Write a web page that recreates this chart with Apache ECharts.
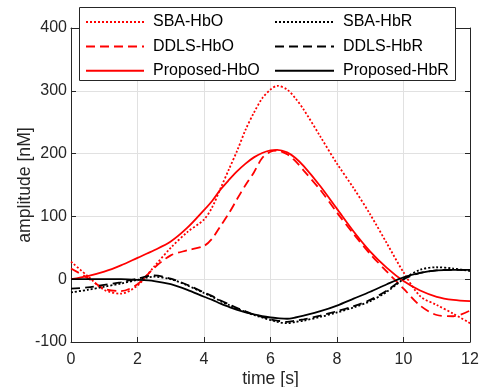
<!DOCTYPE html>
<html>
<head>
<meta charset="utf-8">
<script src="https://cdn.jsdelivr.net/npm/echarts@6/dist/echarts.min.js"></script>
<style>
html,body{margin:0;padding:0;background:#fff;}
#chart{width:482px;height:387px;}
</style>
</head>
<body>
<div id="chart"></div>
<script>
// time samples [s]
var timeValues = [0,0.5,1,1.5,2,2.5,3,3.5,4,4.25,4.5,4.75,5,5.25,5.5,5.75,6,6.2,6.5,6.75,7,7.5,8,8.5,9,9.5,10,10.5,11,11.5,12];

var sbaHbO      = [28,5,-17,-23,-10,20,50,75,95,115,145,175,205,238,265,288,302,308,302,288,270,227,184,145,103,57,11,-27,-41,-55,-70];
var ddlsHbO     = [17,2,-15,-19,-8,18,38,46,53,65,85,105,128,150,170,193,203,205,199,188,173,142,106,72,40,12,-15,-42,-57,-59,-50];
var proposedHbO = [0,5,12,22,34,46,60,82,110,125,143,158,172,184,194,201,205,206,202,193,180,148,112,76,44,18,-3,-18,-28,-33,-35];
var sbaHbR      = [-21,-17,-12,-7,-1,4,0,-10,-22,-28,-35,-41,-47,-52,-57,-61,-65,-68,-70,-68,-66,-60,-53,-45,-35,-20,0,15,19,17,13];
var ddlsHbR     = [-15,-13,-9,-5,1,6,1,-9,-21,-27,-34,-40,-46,-51,-56,-60,-64,-66,-68,-66,-64,-58,-51,-43,-33,-18,0,10,14,15,15];
var proposedHbR = [0,0,0,0,-1,-3,-8,-17,-28,-33,-39,-44,-49,-53,-56,-59,-61,-62,-63,-61,-58,-51,-42,-31,-20,-8,3,10,14,15,15];

var seriesNames = ['SBA-HbO','DDLS-HbO','Proposed-HbO','SBA-HbR','DDLS-HbR','Proposed-HbR'];
var xTicks = {min:0, max:12, interval:2};
var yTicks = {min:-100, max:400, interval:100};

function pairs(vals){ return timeValues.map(function(t,i){ return [t, vals[i]]; }); }

var RED = '#ff0000', BLACK = '#000000';
var DOT = [2,2], DASH = [9,5];
var FONT = '"Liberation Sans", Arial, sans-serif';
var AX = '#262626';

function mk(name, vals, color, type){
  return {
    name: name, type: 'line', data: pairs(vals),
    showSymbol: false, symbol: 'none', smooth: 0.3,
    lineStyle: {color: color, width: 1.8, type: type, cap: 'butt'},
    itemStyle: {color: color},
    emphasis: {disabled: true}, animation: false
  };
}

var chart = echarts.init(document.getElementById('chart'), null, {renderer:'canvas'});
var axisCommon = {
  axisLine: {show:true, onZero:false, lineStyle:{color:AX, width:1}},
  axisTick: {show:true, inside:true, length:5, lineStyle:{color:AX}},
};
var legendCommon = {
  orient:'vertical', top:14, itemHeight:14, itemGap:8.4, padding:0, z:5,
  itemStyle:{opacity:0, borderWidth:0},
  textStyle:{fontSize:16, color:'#000', fontFamily:FONT, lineHeight:14, padding:[0,0,0,4]},
  selectedMode:false
};
chart.setOption({
  animation: false,
  backgroundColor: '#ffffff',
  textStyle: {fontFamily: FONT},
  grid: {left:71, right:12, top:28, bottom:45, containLabel:false, outerBoundsMode:'none'},
  xAxis: [
    Object.assign({
      type:'value', min:xTicks.min, max:xTicks.max, interval:xTicks.interval,
      name:'time [s]', nameLocation:'middle', nameGap:28, nameMoveOverlap:false,
      nameTextStyle:{fontSize:17.6, color:AX, fontFamily:FONT},
      axisLabel:{fontSize:16, color:AX, margin:10, fontFamily:FONT},
      splitLine:{show:true, lineStyle:{color:'#e1e1e1', width:1}}
    }, axisCommon),
    Object.assign({
      type:'value', position:'top', min:xTicks.min, max:xTicks.max, interval:xTicks.interval,
      axisLabel:{show:false}, splitLine:{show:false}
    }, axisCommon)
  ],
  yAxis: [
    Object.assign({
      type:'value', min:yTicks.min, max:yTicks.max, interval:yTicks.interval,
      name:'amplitude [nM]', nameLocation:'middle', nameGap:37, nameRotate:90, nameMoveOverlap:false,
      nameTextStyle:{fontSize:17.6, color:AX, fontFamily:FONT},
      axisLabel:{fontSize:16, color:AX, margin:4, fontFamily:FONT},
      splitLine:{show:true, lineStyle:{color:'#e1e1e1', width:1}}
    }, axisCommon),
    Object.assign({
      type:'value', position:'right', min:yTicks.min, max:yTicks.max, interval:yTicks.interval,
      axisLabel:{show:false}, splitLine:{show:false}
    }, axisCommon)
  ],
  graphic: [{
    type:'rect', z: 3,
    shape:{x:79.5, y:7.5, width:376, height:73},
    style:{fill:'#ffffff', stroke:AX, lineWidth:1}
  }],
  legend: [
    Object.assign({data: seriesNames.slice(0,3), left:85, itemWidth:58}, legendCommon),
    Object.assign({data: seriesNames.slice(3,6), left:274, itemWidth:59}, legendCommon)
  ],
  series: [
    mk(seriesNames[0], sbaHbO, RED, DOT),
    mk(seriesNames[1], ddlsHbO, RED, DASH),
    mk(seriesNames[2], proposedHbO, RED, 'solid'),
    mk(seriesNames[3], sbaHbR, BLACK, DOT),
    mk(seriesNames[4], ddlsHbR, BLACK, DASH),
    mk(seriesNames[5], proposedHbR, BLACK, 'solid')
  ]
});
</script>
</body>
</html>
